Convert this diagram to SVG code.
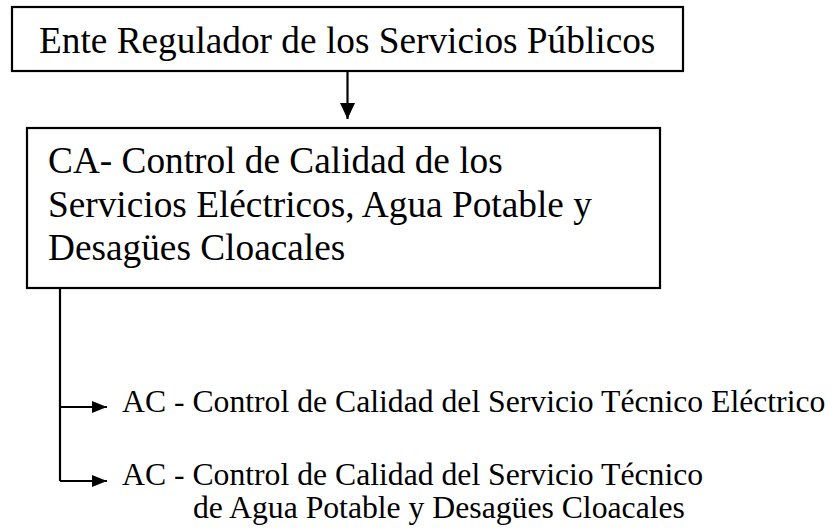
<svg xmlns="http://www.w3.org/2000/svg" width="836" height="531" viewBox="0 0 836 531">
<defs>
<style>
.box{fill:#fff;stroke:#000;stroke-width:2.2}
.ln{fill:none;stroke:#000;stroke-width:2.2}
.t{font-family:"Liberation Serif","Times New Roman",serif;fill:#000}
.big{font-size:37.3px}
.sm{font-size:31.7px}
</style>
<marker id="ah" markerWidth="16" markerHeight="15" refX="16" refY="7.5" orient="auto" markerUnits="userSpaceOnUse">
<path d="M0,0 L16,7.5 L0,15 Z" fill="#000"/>
</marker>
<marker id="ahs" markerWidth="15" markerHeight="12" refX="15" refY="6" orient="auto" markerUnits="userSpaceOnUse">
<path d="M0,0 L15,6 L0,12 Z" fill="#000"/>
</marker>
</defs>
<rect width="836" height="531" fill="#fff"/>
<g id="ente">
<rect class="box" x="12" y="7" width="671" height="64"/>
<text class="t big" x="39" y="53">Ente Regulador de los Servicios Públicos</text>
</g>
<g id="ca">
<rect class="box" x="27" y="128" width="633" height="160"/>
<text class="t big" x="48" y="173">CA- Control de Calidad de los</text>
<text class="t big" x="48" y="217">Servicios Eléctricos, Agua Potable y</text>
<text class="t big" x="48" y="260">Desagües Cloacales</text>
</g>
<g id="ac1">
<text class="t sm" x="122" y="412">AC - Control de Calidad del Servicio Técnico Eléctrico</text>
</g>
<g id="ac2">
<text class="t sm" x="122" y="485">AC - Control de Calidad del Servicio Técnico</text>
<text class="t sm" x="193" y="518">de Agua Potable y Desagües Cloacales</text>
</g>
<g id="connectors">
<line class="ln" x1="347.5" y1="71" x2="347.5" y2="119" marker-end="url(#ah)"/>
<path class="ln" d="M60,288 V481"/>
<line class="ln" x1="60" y1="407" x2="107" y2="407" marker-end="url(#ahs)"/>
<line class="ln" x1="60" y1="481" x2="107" y2="481" marker-end="url(#ahs)"/>
</g>
</svg>
